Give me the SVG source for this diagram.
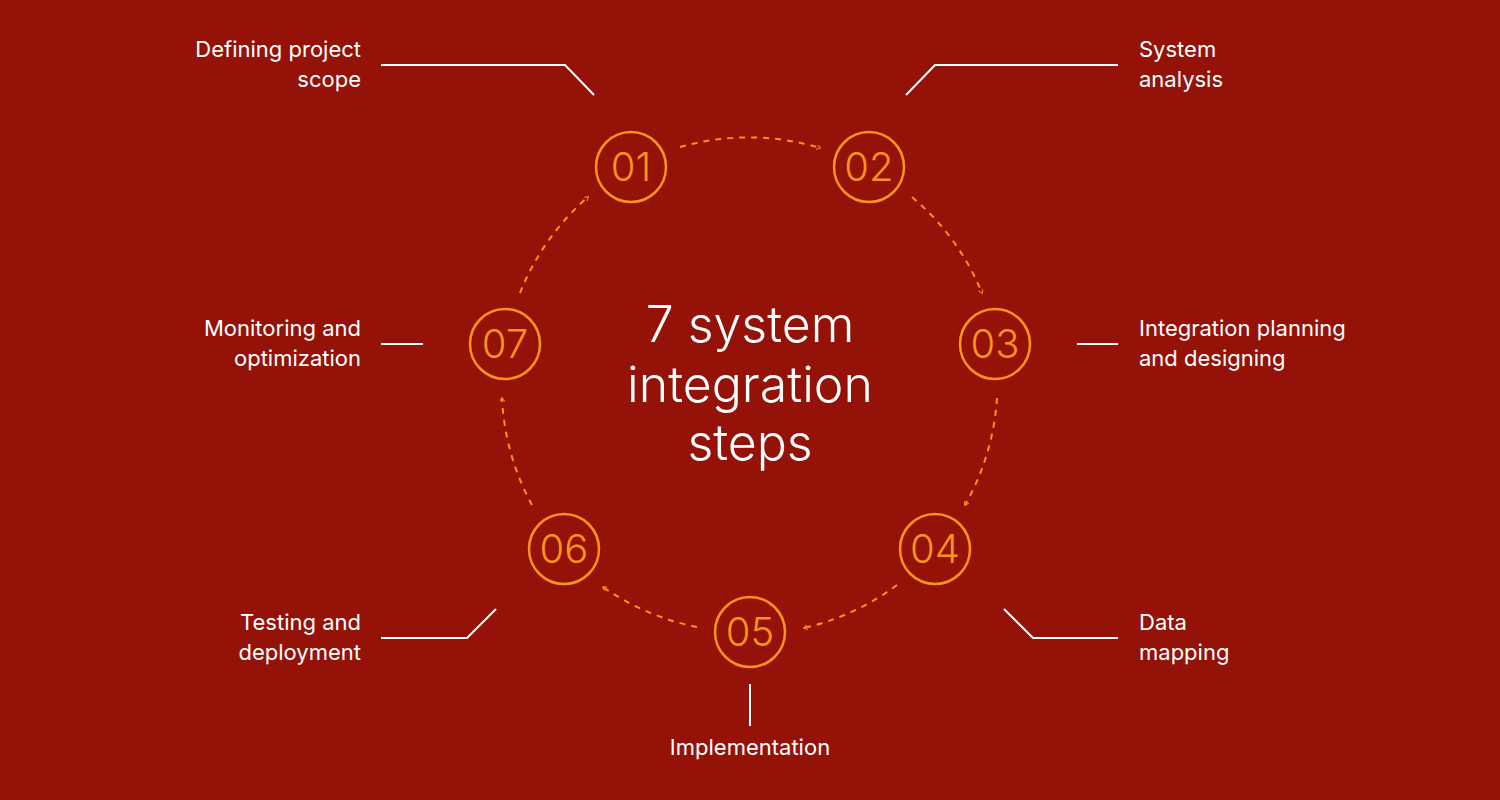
<svg xmlns="http://www.w3.org/2000/svg" width="1500" height="800" viewBox="0 0 1500 800">
<defs>
<style>
.c{fill:none;stroke:#F7941D;stroke-width:2.5}
.n{fill:#F7941D;font-family:Inter,"Liberation Sans",sans-serif;font-weight:300;font-size:40px;text-anchor:middle}
.l{fill:#fff;font-family:Inter,"Liberation Sans",sans-serif;font-size:22px}
.r{text-anchor:end}
.w{fill:none;stroke:#fff;stroke-width:2}
.a{fill:none;stroke:#F7941D;stroke-width:2;stroke-dasharray:6 6;marker-end:url(#m)}
.t{fill:#fff;font-family:Inter,"Liberation Sans",sans-serif;font-weight:300;font-size:50px;text-anchor:middle}
</style>
<marker id="m" viewBox="0 0 10 10" refX="8" refY="5" markerWidth="5" markerHeight="5" orient="auto" markerUnits="userSpaceOnUse"><path d="M1,0 L9,5 L1,10" fill="none" stroke="#F7941D" stroke-width="2" stroke-dasharray="none"/></marker>
</defs>
<rect width="1500" height="800" fill="#941208"/>
<g id="center"><text class="t" x="750" y="342">7 system</text><text class="t" x="750" y="402">integration</text><text class="t" x="750" y="460">steps</text></g>
<g id="connectors">
<path class="a" d="M680,147 A248,248 0 0 1 820,148"/>
<path class="a" d="M912,197 A248,248 0 0 1 982,293"/>
<path class="a" d="M997,398 A248,248 0 0 1 965,505"/>
<path class="a" d="M897,585 A248,248 0 0 1 804,628"/>
<path class="a" d="M697,627 A248,248 0 0 1 603,587"/>
<path class="a" d="M532,505 A248,248 0 0 1 502,398"/>
<path class="a" d="M520,293 A248,248 0 0 1 588,197"/>
</g>
<g id="n1"><circle class="c" cx="631" cy="167" r="35"/><text class="n" x="631" y="181">01</text><path class="w" d="M381,65 H565 L594,95"/><text class="l r" x="361" y="57">Defining project</text><text class="l r" x="361" y="87">scope</text></g>
<g id="n2"><circle class="c" cx="869" cy="167" r="35"/><text class="n" x="869" y="181">02</text><path class="w" d="M906,95 L935,65 H1118"/><text class="l" x="1139" y="57">System</text><text class="l" x="1139" y="87">analysis</text></g>
<g id="n3"><circle class="c" cx="995" cy="344" r="35"/><text class="n" x="995" y="358">03</text><path class="w" d="M1077,344 H1118"/><text class="l" x="1139" y="336">Integration planning</text><text class="l" x="1139" y="366">and designing</text></g>
<g id="n4"><circle class="c" cx="935" cy="549" r="35"/><text class="n" x="935" y="563">04</text><path class="w" d="M1004,609 L1033,638 H1118"/><text class="l" x="1139" y="630">Data</text><text class="l" x="1139" y="660">mapping</text></g>
<g id="n5"><circle class="c" cx="750" cy="632" r="35"/><text class="n" x="750" y="646">05</text><path class="w" d="M750,684 V726"/><text class="l" x="750" y="755" text-anchor="middle">Implementation</text></g>
<g id="n6"><circle class="c" cx="564" cy="549" r="35"/><text class="n" x="564" y="563">06</text><path class="w" d="M381,638 H467 L496,609"/><text class="l r" x="361" y="630">Testing and</text><text class="l r" x="361" y="660">deployment</text></g>
<g id="n7"><circle class="c" cx="505" cy="344" r="35"/><text class="n" x="505" y="358">07</text><path class="w" d="M381,344 H423"/><text class="l r" x="361" y="336">Monitoring and</text><text class="l r" x="361" y="366">optimization</text></g>
</svg>
